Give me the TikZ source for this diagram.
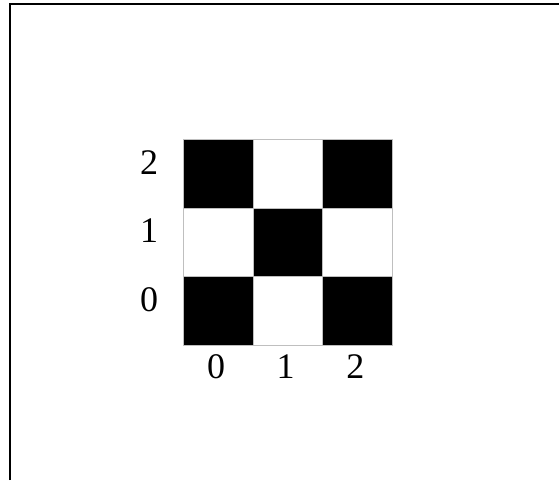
\documentclass[tikz,border=0pt]{standalone}
\usepackage{fontspec}
\setmainfont{Liberation Serif}
\usetikzlibrary{positioning}

\begin{document}
\begin{tikzpicture}[
    x=1pt, y=-1pt,
    cell/.style={draw=black!25, line width=0.6pt, minimum width=69.7pt, minimum height=68.7pt, inner sep=0pt, outer sep=0pt},
    lbl/.style={font=\fontsize{36}{40}\selectfont, inner sep=0pt}
]
\useasboundingbox (0,0) rectangle (559,480);

% -------------------------
% Frame
% -------------------------
\draw[line width=2pt] (10,480) -- (10,4) -- (559,4);

% -------------------------
% Board Cells (black when i+j is even)
% -------------------------
\foreach \i in {0,1,2}{
    \foreach \j in {0,1,2}{
        \pgfmathsetmacro\cx{218+69.7*\i}
        \pgfmathsetmacro\cy{311-68.7*\j}
        \pgfmathtruncatemacro\parity{mod(\i+\j,2)}
        \ifnum\parity=0 \def\shade{black}\else\def\shade{white}\fi
        \node[cell, fill=\shade] (C\i\j) at (\cx,\cy) {};
    }
}

% -------------------------
% Axis Labels
% -------------------------
\foreach \j in {0,1,2}{
    \node[lbl] (Row\j) at (149, 299.5-68.7*\j) {\j};
}
\foreach \i in {0,1,2}{
    \node[lbl] (Col\i) at (216+69.7*\i, 367) {\i};
}

\end{tikzpicture}
\end{document}
